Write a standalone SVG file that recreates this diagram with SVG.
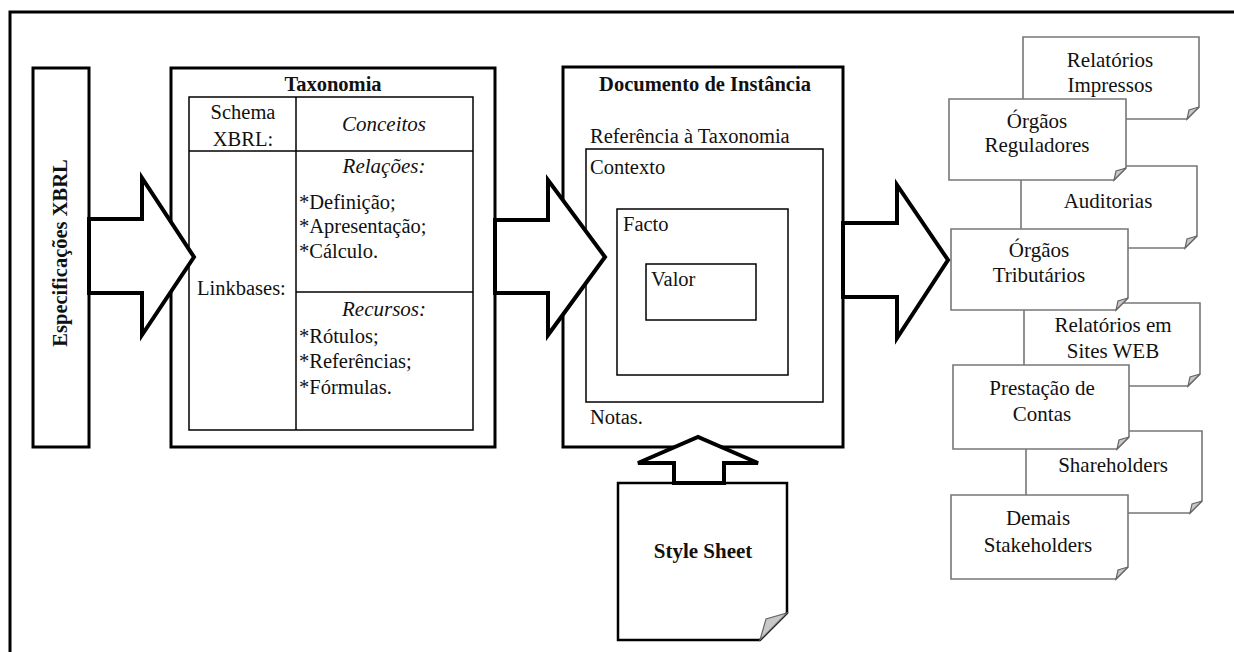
<svg xmlns="http://www.w3.org/2000/svg" width="1234" height="652" viewBox="0 0 1234 652">
<defs>
<style>
text{font-family:"Liberation Serif","Tinos","Times New Roman","Nimbus Roman","DejaVu Serif",serif;font-weight:400;fill:#111;}
.t20{font-size:20.5px;}
.t21{font-size:21px;}
.b{font-weight:bold;}
.i{font-style:italic;}
.m{text-anchor:middle;}
.frame{fill:none;stroke:#000;stroke-width:3;}
.box{fill:#fff;stroke:#000;stroke-width:3;}
.thin{fill:none;stroke:#000;stroke-width:1.5;}
.arrow{fill:#fff;stroke:#000;stroke-width:4;stroke-linejoin:miter;}
.doc{fill:#fff;stroke:#777;stroke-width:1.6;}
.flap{fill:#c8c8c8;stroke:#666;stroke-width:1.2;}
</style>
</defs>
<rect width="1234" height="652" fill="#fff"/>
<path class="frame" d="M10,652 V12 H1234"/>

<g id="spec">
<rect class="box" x="33" y="68" width="56" height="379"/>
<text class="t20 b m" transform="translate(67,253) rotate(-90)">Especificações XBRL</text>
</g>

<g id="taxonomia">
<rect class="box" x="171" y="68" width="324" height="379"/>
<text class="t20 b m" x="333" y="91">Taxonomia</text>
<rect class="thin" x="189" y="97" width="284" height="333"/>
<line class="thin" x1="296" y1="97" x2="296" y2="430"/>
<line class="thin" x1="189" y1="151" x2="473" y2="151"/>
<line class="thin" x1="296" y1="292" x2="473" y2="292"/>
<text class="t20 m" x="243" y="119">Schema</text>
<text class="t20 m" x="243" y="146">XBRL:</text>
<text class="t21 i m" x="384" y="131">Conceitos</text>
<text class="t21 i m" x="384" y="173">Relações:</text>
<text class="t20" x="299" y="209">*Definição;</text>
<text class="t20" x="299" y="233">*Apresentação;</text>
<text class="t20" x="299" y="258">*Cálculo.</text>
<text class="t20" x="197" y="295">Linkbases:</text>
<text class="t21 i m" x="384" y="316">Recursos:</text>
<text class="t20" x="299" y="343">*Rótulos;</text>
<text class="t20" x="299" y="368">*Referências;</text>
<text class="t20" x="299" y="394">*Fórmulas.</text>
</g>

<g id="documento">
<rect class="box" x="563" y="67" width="280" height="380"/>
<text class="t20 b m" x="705" y="91">Documento de Instância</text>
<text class="t20" x="590" y="143">Referência à Taxonomia</text>
<rect class="thin" x="586" y="149" width="237" height="253"/>
<text class="t20" x="590" y="174">Contexto</text>
<rect class="thin" x="617" y="209" width="171" height="166"/>
<text class="t20" x="623" y="231">Facto</text>
<rect class="thin" x="646" y="264" width="110" height="56"/>
<text class="t20" x="651" y="286">Valor</text>
<text class="t20" x="590" y="424">Notas.</text>
</g>

<g id="stylesheet">
<path fill="#fff" stroke="#000" stroke-width="2.5" d="M618,483 H787 V613 L760,640 H618 Z"/>
<path class="flap" d="M787,613 L760,640 L766,619 Z"/>
<text class="t21 b m" x="703" y="558">Style Sheet</text>
</g>

<g id="relatorios-impressos">
<path class="doc" d="M1023,37 H1199 V107 L1187,119 H1023 Z"/>
<path class="flap" d="M1199,107 L1187,119 L1189,110 Z"/>
<text class="t21 m" x="1110" y="67">Relatórios</text>
<text class="t21 m" x="1110" y="92">Impressos</text>
</g>
<g id="auditorias">
<path class="doc" d="M1021,166 H1197 V236 L1185,248 H1021 Z"/>
<path class="flap" d="M1197,236 L1185,248 L1187,239 Z"/>
<text class="t21 m" x="1108" y="208">Auditorias</text>
</g>
<g id="relatorios-web">
<path class="doc" d="M1024,303 H1200 V374 L1188,386 H1024 Z"/>
<path class="flap" d="M1200,374 L1188,386 L1190,377 Z"/>
<text class="t21 m" x="1113" y="332">Relatórios em</text>
<text class="t21 m" x="1113" y="358">Sites WEB</text>
</g>
<g id="shareholders">
<path class="doc" d="M1026,431 H1202 V501 L1190,513 H1026 Z"/>
<path class="flap" d="M1202,501 L1190,513 L1192,504 Z"/>
<text class="t21 m" x="1113" y="472">Shareholders</text>
</g>

<g id="orgaos-reguladores">
<path class="doc" d="M949,99 H1126 V168 L1114,180 H949 Z"/>
<path class="flap" d="M1126,168 L1114,180 L1116,171 Z"/>
<text class="t21 m" x="1037" y="128">Órgãos</text>
<text class="t21 m" x="1037" y="152">Reguladores</text>
</g>
<g id="orgaos-tributarios">
<path class="doc" d="M951,229 H1128 V298 L1116,310 H951 Z"/>
<path class="flap" d="M1128,298 L1116,310 L1118,301 Z"/>
<text class="t21 m" x="1039" y="257">Órgãos</text>
<text class="t21 m" x="1039" y="282">Tributários</text>
</g>
<g id="prestacao-contas">
<path class="doc" d="M953,365 H1129 V437 L1117,449 H953 Z"/>
<path class="flap" d="M1129,437 L1117,449 L1119,440 Z"/>
<text class="t21 m" x="1042" y="395">Prestação de</text>
<text class="t21 m" x="1042" y="421">Contas</text>
</g>
<g id="demais-stakeholders">
<path class="doc" d="M951,495 H1128 V567 L1116,579 H951 Z"/>
<path class="flap" d="M1128,567 L1116,579 L1118,570 Z"/>
<text class="t21 m" x="1038" y="525">Demais</text>
<text class="t21 m" x="1038" y="552">Stakeholders</text>
</g>

<g id="connectors">
<polygon class="arrow" points="89,219 142,219 142,178 194,257 142,335 142,293 89,293"/>
<polygon class="arrow" points="495,220 548,220 548,180 605,257 548,335 548,293 495,293"/>
<polygon class="arrow" points="843,223 897,223 897,185 948,260 897,338 897,297 843,297"/>
<polygon class="arrow" stroke-width="3" points="674,483 674,463 638,463 698,437 758,463 724,463 724,483"/>
</g>
</svg>
